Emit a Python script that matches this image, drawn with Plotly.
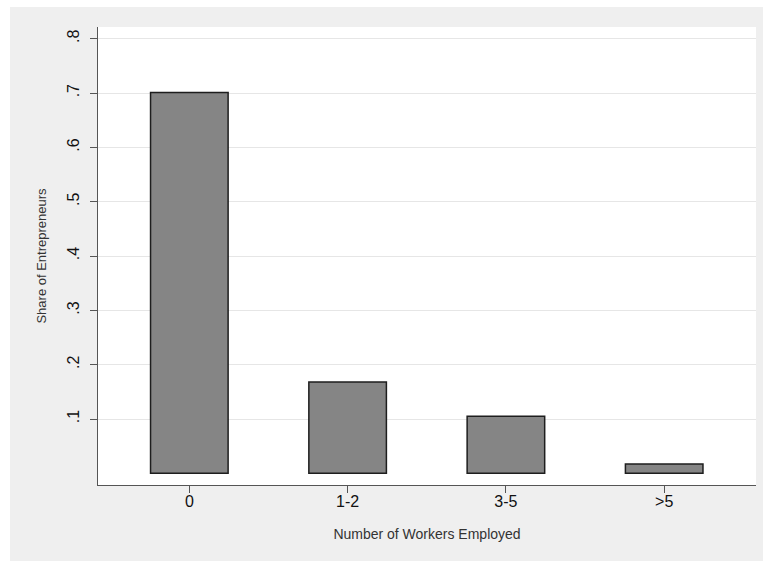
import plotly.graph_objects as go

categories = ["0", "1-2", "3-5", ">5"]
shares = [0.701, 0.168, 0.105, 0.017]
y_ticks = [0.1, 0.2, 0.3, 0.4, 0.5, 0.6, 0.7, 0.8]
y_tick_labels = [".1", ".2", ".3", ".4", ".5", ".6", ".7", ".8"]

W, H = 763, 561
ml, mr, mt, mb = 98, 7, 27, 76
pw = W - ml - mr
ph = H - mt - mb

fig = go.Figure()
fig.add_trace(go.Bar(
    x=list(range(len(categories))), y=shares,
    width=0.49,
    marker=dict(color="#858585", line=dict(color="#1e1e1e", width=1.5)),
    hoverinfo="skip",
))

font = "Liberation Sans, Arial, sans-serif"
fig.update_layout(
    width=W, height=H,
    margin=dict(l=ml, r=mr, t=mt, b=mb, pad=0),
    paper_bgcolor="#efefef",
    plot_bgcolor="white",
    showlegend=False,
    font=dict(family=font, color="#222222"),
    xaxis=dict(
        range=[-0.577, 3.58],
        tickvals=list(range(len(categories))), ticktext=categories,
        ticks="outside", ticklen=7, tickwidth=1, tickcolor="#555555",
        showline=True, linecolor="#555555", linewidth=1.3,
        showgrid=False, zeroline=False,
        ticklabelstandoff=-5,
        tickfont=dict(size=16, color="#111111"),
        title=dict(text="Number of Workers Employed", font=dict(size=14, color="#333333"), standoff=19),
    ),
    yaxis=dict(
        range=[-0.0215, 0.8216],
        tickvals=y_ticks, ticktext=y_tick_labels,
        tickangle=-90,
        ticks="outside", ticklen=7, tickwidth=1, tickcolor="#555555",
        showline=True, linecolor="#555555", linewidth=1.3,
        showgrid=True, gridcolor="#e6e6e6", gridwidth=1,
        zeroline=False,
        ticklabelstandoff=4,
        tickfont=dict(size=16, color="#111111"),
        title=dict(text="Share of Entrepreneurs", font=dict(size=13, color="#333333"), standoff=15),
    ),
    shapes=[
        dict(type="rect", xref="paper", yref="paper",
             x0=-ml / pw, x1=(10 - ml) / pw, y0=-mb / ph, y1=1 + mt / ph,
             fillcolor="white", line=dict(width=0), layer="above"),
        dict(type="rect", xref="paper", yref="paper",
             x0=-ml / pw, x1=1 + mr / pw, y0=1 + (mt - 7) / ph, y1=1 + mt / ph,
             fillcolor="white", line=dict(width=0), layer="above"),
    ],
)

fig.write_html("out.html", config={"displayModeBar": False},
               post_script="document.body.style.margin='0';document.body.style.overflow='hidden';")
